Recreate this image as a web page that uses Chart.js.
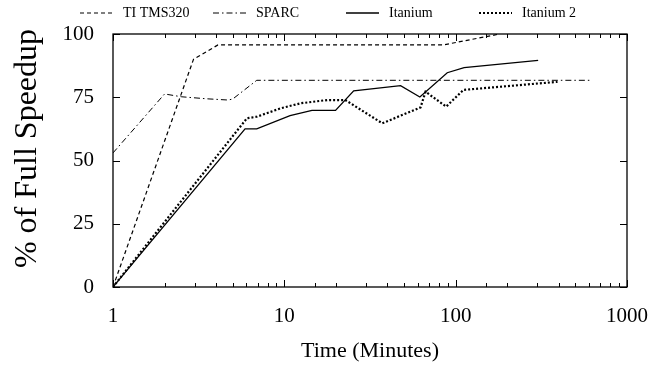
<!DOCTYPE html>
<html>
<head>
<meta charset="utf-8">
<script src="https://cdn.jsdelivr.net/npm/chart.js@4/dist/chart.umd.min.js"></script>
<style>
  html, body { margin: 0; padding: 0; background: #fff; }
  #wrap { width: 660px; height: 368px; }
</style>
</head>
<body>
<div id="wrap"><canvas id="c" width="660" height="368"></canvas></div>
<script>
// values
var tiTime = [1, 2.95, 4.1, 85, 181];
var tiSpeedup = [0, 90, 95.7, 95.7, 100];

var sparcTime = [1, 2, 2.5, 3.5, 4.7, 5, 6.9, 620];
var sparcSpeedup = [53, 76.3, 75.2, 74.4, 73.9, 74.3, 81.7, 81.7];

var itaniumTime = [1, 5.9, 6.9, 10.8, 14.5, 19.9, 25.4, 47.7, 61.8, 89.3, 112, 303];
var itaniumSpeedup = [0, 62.5, 62.5, 67.7, 69.8, 69.8, 77.5, 79.6, 75.1, 84.7, 86.7, 89.6];

var itanium2Time = [1, 6.05, 6.9, 9.5, 12.4, 17.8, 22.7, 37.3, 62.4, 66.7, 88, 111, 393];
var itanium2Speedup = [0, 66.7, 67.3, 70.6, 72.6, 73.9, 73.9, 64.7, 71.0, 77.2, 71.3, 77.9, 81.1];

var yTicks = [0, 25, 50, 75, 100];

function pts(xs, ys) {
  return xs.map(function (x, i) { return {x: x, y: ys[i]}; });
}

var serif = "'Liberation Serif', 'Times New Roman', serif";

// gnuplot style frame, inward ticks and key
var frame = {
  id: 'frame',
  afterDraw: function (chart) {
    var ctx = chart.ctx, a = chart.chartArea;
    var xs = chart.scales.x, ys = chart.scales.y;
    ctx.save();
    ctx.strokeStyle = '#000';
    ctx.lineWidth = 1;
    ctx.setLineDash([]);
    ctx.beginPath();
    xs.ticks.forEach(function (t) {
      var px = Math.round(xs.getPixelForValue(t.value)) + 0.5;
      var major = Math.abs(Math.log10(t.value) - Math.round(Math.log10(t.value))) < 1e-9;
      var len = major ? 7 : 4;
      ctx.moveTo(px, a.bottom); ctx.lineTo(px, a.bottom - len);
      ctx.moveTo(px, a.top); ctx.lineTo(px, a.top + len);
    });
    yTicks.forEach(function (v) {
      var py = Math.round(ys.getPixelForValue(v)) + 0.5;
      ctx.moveTo(a.left, py); ctx.lineTo(a.left + 7, py);
      ctx.moveTo(a.right, py); ctx.lineTo(a.right - 7, py);
    });
    ctx.stroke();
    ctx.lineWidth = 1.3;
    ctx.strokeRect(a.left, a.top, a.right - a.left, a.bottom - a.top);

    // key
    ctx.font = '14px ' + serif;
    ctx.textBaseline = 'middle';
    ctx.fillStyle = '#000';
    chart.data.datasets.forEach(function (ds, i) {
      var x0 = 80 + 133 * i, y0 = 13;
      ctx.beginPath();
      ctx.lineWidth = ds.borderWidth;
      ctx.setLineDash(ds.borderDash || []);
      ctx.moveTo(x0, y0); ctx.lineTo(x0 + 33, y0);
      ctx.stroke();
      ctx.setLineDash([]);
      ctx.fillText(ds.label, x0 + 43, y0);
    });
    ctx.restore();
  }
};

new Chart(document.getElementById('c'), {
  type: 'line',
  data: {
    datasets: [
      {label: 'TI TMS320', data: pts(tiTime, tiSpeedup), borderColor: '#000', borderWidth: 1.2, borderDash: [4, 3]},
      {label: 'SPARC', data: pts(sparcTime, sparcSpeedup), borderColor: '#000', borderWidth: 1, borderDash: [6, 3, 1.5, 3]},
      {label: 'Itanium', data: pts(itaniumTime, itaniumSpeedup), borderColor: '#000', borderWidth: 1.3},
      {label: 'Itanium 2', data: pts(itanium2Time, itanium2Speedup), borderColor: '#000', borderWidth: 2.2, borderDash: [2, 2]}
    ]
  },
  options: {
    responsive: false,
    animation: false,
    events: [],
    elements: {point: {radius: 0}, line: {tension: 0, fill: false}},
    layout: {padding: {top: 34, right: 33, bottom: 0, left: 0}},
    plugins: {legend: {display: false}, tooltip: {enabled: false}},
    scales: {
      x: {
        type: 'logarithmic',
        min: 1, max: 1000,
        grid: {display: false, drawTicks: false},
        border: {display: false},
        afterFit: function (s) { s.height = 81; s.paddingRight = 0; s.paddingLeft = 0; },
        ticks: {
          autoSkip: false, maxRotation: 0, padding: 17,
          color: '#000', font: {family: serif, size: 21},
          callback: function (v) {
            var l = Math.log10(v);
            return Math.abs(l - Math.round(l)) < 1e-9 ? String(v) : '';
          }
        },
        title: {display: true, text: 'Time (Minutes)', color: '#000', font: {family: serif, size: 22}, padding: {top: 0, bottom: 4}}
      },
      y: {
        min: 0, max: 100,
        grid: {display: false, drawTicks: false},
        border: {display: false},
        afterFit: function (s) { s.width = 113; },
        afterBuildTicks: function (s) { s.ticks = yTicks.map(function (v) { return {value: v}; }); },
        ticks: {padding: 19, color: '#000', font: {family: serif, size: 21}},
        title: {display: true, text: '\u2002 % of Full Speedup', color: '#000', font: {family: serif, size: 32}, padding: {top: 8, bottom: 0}}
      }
    }
  },
  plugins: [frame]
});
</script>
</body>
</html>
